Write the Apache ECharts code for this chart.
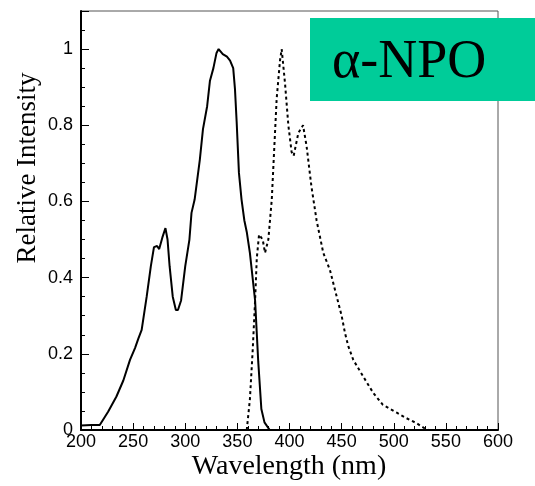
<!DOCTYPE html>
<html>
<head>
<meta charset="utf-8">
<script src="https://cdn.jsdelivr.net/npm/echarts@6/dist/echarts.min.js"></script>
<style>
html,body{margin:0;padding:0;background:#fff;}
#chart{width:535px;height:486px;}
</style>
</head>
<body>
<div id="chart"></div>
<script>
// Excitation (solid) spectrum
var excWavelength = [200,210,218,226,234,240.6,247,251.8,255,258.2,263,267,270,273,275,278,281,283,285,288,291,293,296,300,304,306,309,314,317,321,323.7,327,330,332,336,340,343,346,347.7,349.3,351.5,354,356.7,359,362,367,370,373,376,381];
var excIntensity  = [0.012,0.013,0.013,0.048,0.088,0.13,0.184,0.215,0.24,0.263,0.35,0.43,0.48,0.483,0.475,0.505,0.53,0.50,0.43,0.35,0.315,0.315,0.34,0.43,0.50,0.57,0.605,0.71,0.79,0.85,0.917,0.95,0.99,1.0,0.987,0.98,0.97,0.95,0.895,0.81,0.675,0.605,0.55,0.52,0.465,0.34,0.18,0.055,0.02,0.0];
// Emission (dotted) spectrum
var emWavelength = [359,362,364.7,367,368.6,370.8,374.3,376.5,379.7,383,384.5,387.7,390.9,392.5,395.7,398.9,402,404,408.5,413,416.4,421,426,432.4,438.8,445.3,450,453.2,456.4,461.2,470.8,480.4,489.6,502.5,512.2,521.8,529.8,533];
var emIntensity  = [0,0.08,0.21,0.34,0.45,0.513,0.50,0.465,0.50,0.605,0.69,0.87,0.97,1.0,0.91,0.80,0.73,0.72,0.78,0.80,0.745,0.64,0.55,0.465,0.42,0.35,0.30,0.255,0.22,0.184,0.14,0.097,0.066,0.046,0.031,0.018,0.004,0];
// Axis ticks
var xTicks = [200,250,300,350,400,450,500,550,600];
var yTicks = [0,0.2,0.4,0.6,0.8,1];
var xTitle = 'Wavelength (nm)';
var yTitle = 'Relative Intensity';
var boxLabel = 'α-NPO';

function pairs(xs, ys){ return xs.map(function(x,i){ return [x, ys[i]]; }); }

var chart = echarts.init(document.getElementById('chart'), null, {renderer:'canvas'});
var sans = "'Liberation Sans', Arial, sans-serif";
var serif = "'Liberation Serif', 'Times New Roman', serif";

chart.setOption({
  animation: false,
  backgroundColor: '#fff',
  grid: {left: 81, top: 11, right: 37, bottom: 56, show: true, borderColor: '#555', borderWidth: 1, backgroundColor: 'transparent'},
  xAxis: {
    type: 'value', min: xTicks[0], max: xTicks[xTicks.length-1], interval: 50,
    axisLine: {show: true, lineStyle: {color: '#000', width: 2}},
    axisTick: {show: true, inside: true, length: 7, lineStyle: {color: '#000', width: 1}},
    minorTick: {show: true, splitNumber: 5, length: 4, lineStyle: {color: '#000', width: 1}},
    axisLabel: {color: '#000', fontSize: 18, fontFamily: sans, margin: 3},
    splitLine: {show: false}
  },
  yAxis: [{
    type: 'value', min: 0, max: 1.1, interval: 0.2,
    axisLine: {show: true, lineStyle: {color: '#000', width: 2}},
    axisTick: {show: true, inside: true, length: 8, lineStyle: {color: '#000', width: 1}},
    axisLabel: {color: '#000', fontSize: 18, fontFamily: sans, margin: 8,
      formatter: function(v){ return v > 1.05 ? '' : String(Math.round(v*10)/10); }},
    splitLine: {show: false}
  }, {
    type: 'value', min: 0, max: 1.1, interval: 0.05, position: 'left',
    axisLine: {show: false},
    axisTick: {show: true, inside: true, length: 4, lineStyle: {color: '#000', width: 1}},
    axisLabel: {show: false},
    splitLine: {show: false}
  }],
  series: [{
    type: 'line', data: pairs(excWavelength, excIntensity), showSymbol: false,
    lineStyle: {color: '#000', width: 2}, z: 3
  }, {
    type: 'line', data: pairs(emWavelength, emIntensity), showSymbol: false,
    lineStyle: {color: '#000', width: 2, type: [3,3]}, z: 3
  }],
  graphic: [
    {type: 'text', x: 28, y: 168, rotation: Math.PI/2,
     style: {text: yTitle, font: '27px ' + serif, fill: '#000', textAlign: 'center', textVerticalAlign: 'middle'}},
    {type: 'text', x: 289, y: 467,
     style: {text: xTitle, font: '28px ' + serif, fill: '#000', textAlign: 'center', textVerticalAlign: 'middle'}},
    {type: 'rect', shape: {x: 310, y: 18, width: 225, height: 83}, style: {fill: '#00CC99'}, z: 100},
    {type: 'text', x: 332, y: 63, z: 101,
     style: {text: boxLabel, font: '54px ' + serif, fill: '#000', textAlign: 'left', textVerticalAlign: 'middle'}}
  ]
});
</script>
</body>
</html>
